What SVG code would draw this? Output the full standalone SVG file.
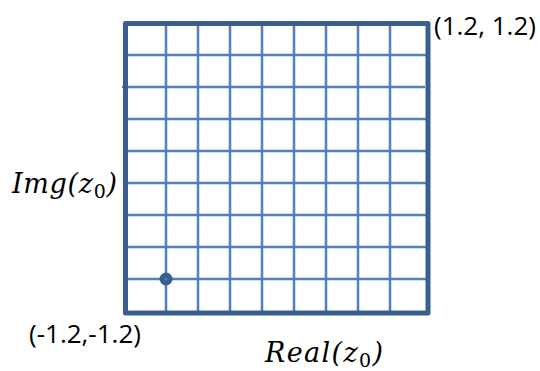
<svg xmlns="http://www.w3.org/2000/svg" width="540" height="371" viewBox="0 0 540 371">
<style>
.grid line{stroke:#4f81bd;stroke-width:2.5}
.border{fill:none;stroke:#3a5e8f;stroke-width:5;stroke-linejoin:round}
.lbl{font-family:"Open Sans","Noto Sans",sans-serif;font-size:26px;fill:#000}
.math{font-family:"DejaVu Serif","Liberation Serif",serif;font-style:italic;font-size:27px;fill:#000}
.sub{font-style:normal;font-size:19px}
</style>
<rect width="540" height="371" fill="#fff"/>
<g id="plane">
<g class="grid">
<line x1="166" y1="24" x2="166" y2="313"/>
<line x1="198" y1="24" x2="198" y2="313"/>
<line x1="230" y1="24" x2="230" y2="313"/>
<line x1="262" y1="24" x2="262" y2="313"/>
<line x1="294" y1="24" x2="294" y2="313"/>
<line x1="326" y1="24" x2="326" y2="313"/>
<line x1="358" y1="24" x2="358" y2="313"/>
<line x1="390" y1="24" x2="390" y2="313"/>
<line x1="126" y1="55" x2="428" y2="55"/>
<line x1="122" y1="87" x2="425" y2="87"/>
<line x1="126" y1="119" x2="428" y2="119"/>
<line x1="126" y1="151" x2="428" y2="151"/>
<line x1="126" y1="183" x2="428" y2="183"/>
<line x1="126" y1="215" x2="428" y2="215"/>
<line x1="126" y1="247" x2="428" y2="247"/>
<line x1="126" y1="279" x2="428" y2="279"/>
</g>
<rect class="border" x="125.5" y="23.5" width="302.5" height="289.5"/>
</g>
<g id="point">
<circle cx="166" cy="279" r="6.5" fill="#3a5e8f"/>
<circle cx="166" cy="279" r="1.3" fill="#4f81bd"/>
</g>
<g id="labels">
<text class="lbl" x="434" y="35">(1.2, 1.2)</text>
<text class="lbl" x="29" y="343">(-1.2,-1.2)</text>
<text class="math" x="12" y="193" textLength="105" lengthAdjust="spacing">Img(z<tspan class="sub" dy="5">0</tspan><tspan dy="-5">)</tspan></text>
<text class="math" x="265" y="362" textLength="118" lengthAdjust="spacing">Real(z<tspan class="sub" dy="5">0</tspan><tspan dy="-5">)</tspan></text>
</g>
</svg>
